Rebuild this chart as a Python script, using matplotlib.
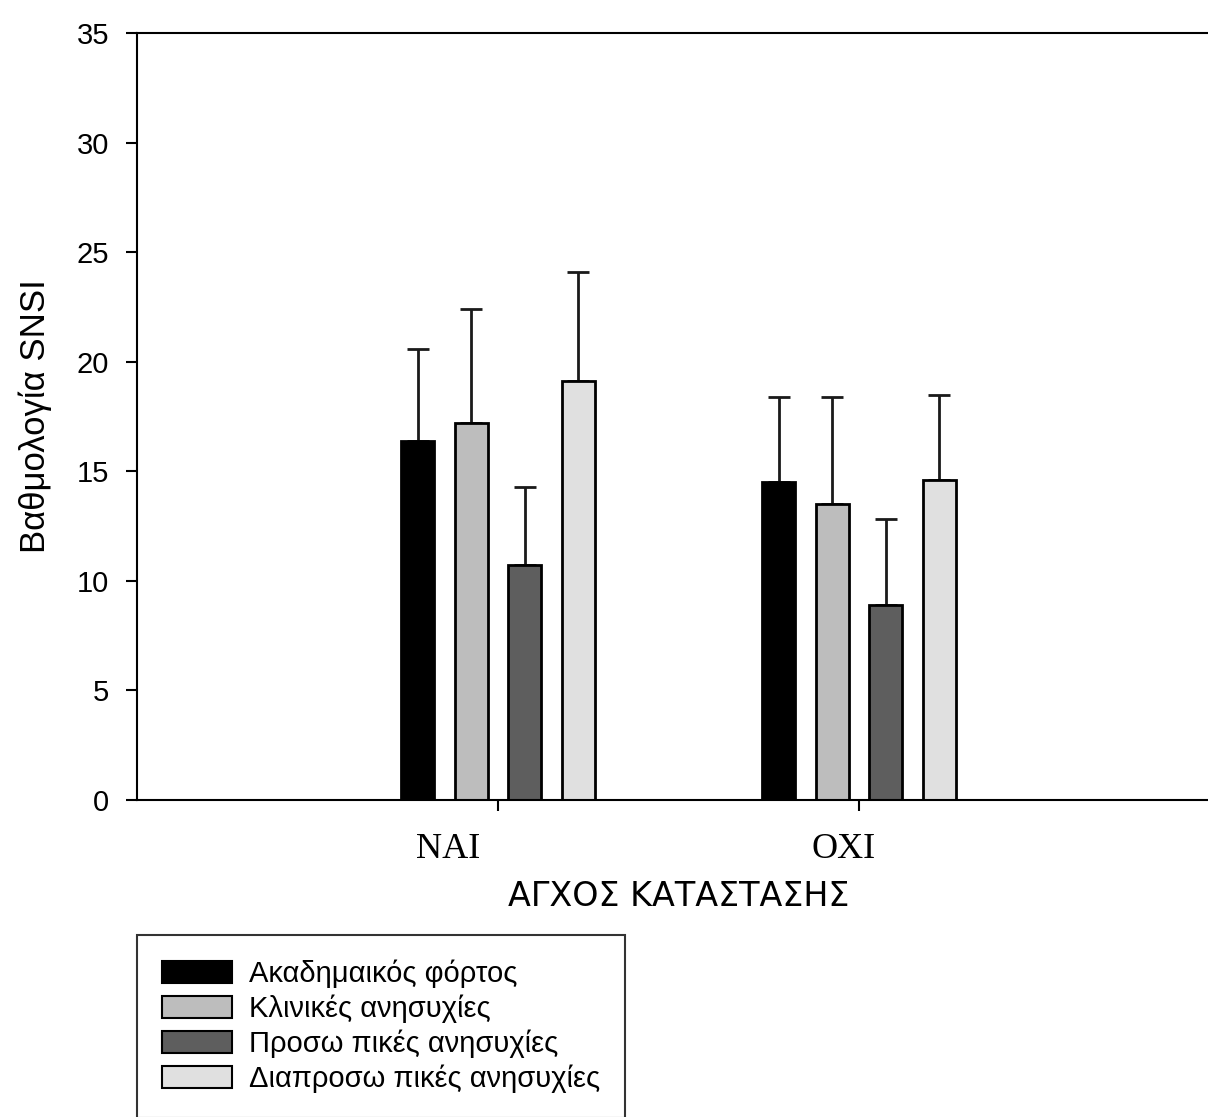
import numpy as np
import matplotlib.pyplot as plt
import matplotlib.transforms as mtransforms
from matplotlib.patches import Patch

# δεδομένα: μέσοι όροι και τυπικές αποκλίσεις ανά ομάδα
groups = ["NAI", "OXI"]
series = ["Ακαδημαικός φόρτος", "Κλινικές ανησυχίες",
          "Προσω πικές ανησυχίες", "Διαπροσω πικές ανησυχίες"]
means = [[16.4, 14.5],
         [17.2, 13.5],
         [10.7, 8.9],
         [19.1, 14.6]]
sds = [[4.2, 3.9],
       [5.2, 4.9],
       [3.6, 3.9],
       [5.0, 3.9]]
colors = ["#000000", "#bdbdbd", "#5e5e5e", "#e0e0e0"]
yticks = [0, 5, 10, 15, 20, 25, 30, 35]

sans = ["Liberation Sans", "DejaVu Sans"]

fig = plt.figure(figsize=(12.08, 11.17), dpi=100)
ax = fig.add_axes([0.1134, 0.2838, 0.8965, 0.6867])

x = np.arange(1, len(groups) + 1)
pitch = 0.148
width = 0.092
for i, (m, s, c) in enumerate(zip(means, sds, colors)):
    pos = x + (i - 1.5) * pitch
    ax.bar(pos, m, width, color=c, edgecolor="black", linewidth=2, zorder=2)
    ax.errorbar(pos, m, yerr=[np.zeros(len(s)), s], fmt="none",
                ecolor="#1a1a1a", elinewidth=2, capsize=8, capthick=2, zorder=1)

ax.set_xlim(0, 3)
ax.set_ylim(0, 35)
ax.set_yticks(yticks)
ax.set_yticklabels([str(t) for t in yticks], family=sans, fontsize=21)
ax.set_xticks(x)
ax.set_xticklabels(groups, family=["Liberation Serif", "DejaVu Serif"], fontsize=26)
ax.tick_params(axis="y", direction="out", length=8, width=1.5, pad=12)
ax.tick_params(axis="x", direction="out", length=8, width=1.5, pad=16)
for sp in ax.spines.values():
    sp.set_linewidth(1.5)

# οι ετικέτες των ομάδων είναι λίγο μετατοπισμένες αριστερά
for lbl, dx in zip(ax.get_xticklabels(), [-50, -15]):
    lbl.set_transform(lbl.get_transform() +
                      mtransforms.ScaledTranslation(dx / 100, 0, fig.dpi_scale_trans))

ax.set_ylabel("Βαθμολογία SNSI", family=sans, fontsize=25, labelpad=18)
ax.set_xlabel("ΑΓΧΟΣ ΚΑΤΑΣΤΑΣΗΣ", family=["DejaVu Sans"],
              fontsize=24, labelpad=10)

handles = [Patch(facecolor=c, edgecolor="black", linewidth=1.5) for c in colors]
leg = fig.legend(handles, series, loc="upper left",
                 bbox_to_anchor=(137 / 1208, 1 - 935 / 1117),
                 prop={"family": sans, "size": 21},
                 frameon=True, fancybox=False, edgecolor="black",
                 handlelength=2.4, handleheight=0.75, handletextpad=0.6,
                 labelspacing=0.22, borderpad=0.85, borderaxespad=0)
leg.get_frame().set_linewidth(1.5)

plt.savefig("out.png", dpi=100)
